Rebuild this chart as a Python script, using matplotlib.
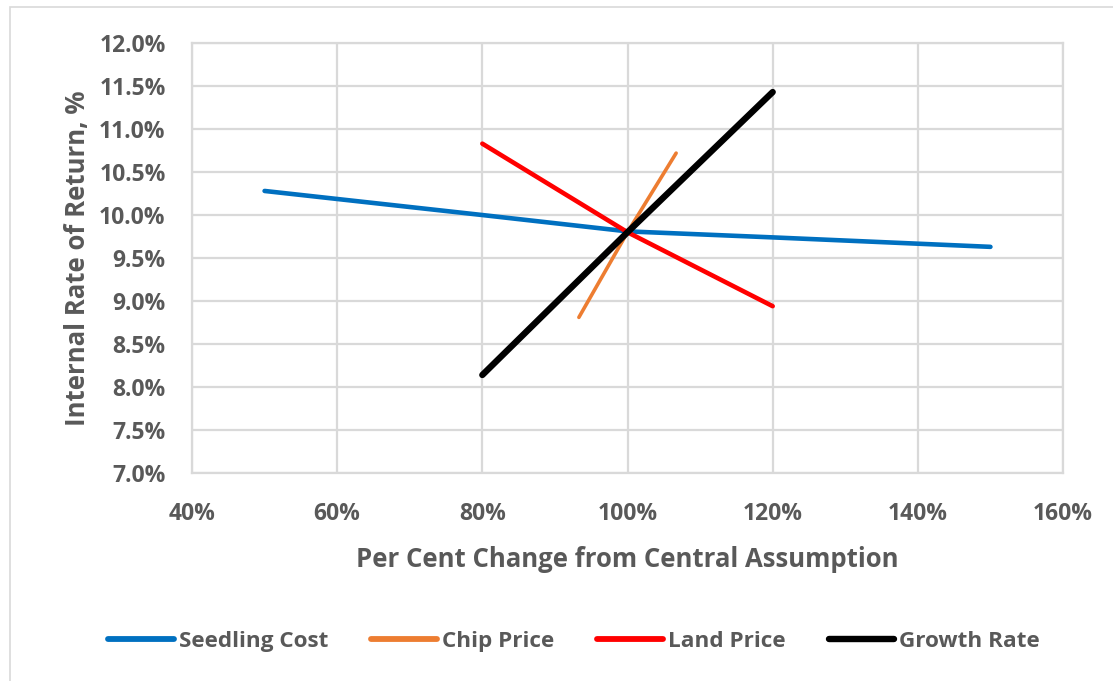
import matplotlib
matplotlib.use('Agg')
import matplotlib.pyplot as plt
from matplotlib.patches import Rectangle
from matplotlib.ticker import FuncFormatter

# sensitivity of IRR to each assumption (x = % of central value, y = IRR %)
seedling_x = [50, 80, 100, 120, 150]
seedling_y = [10.28, 10.0, 9.81, 9.74, 9.63]
chip_x = [93.3, 100, 106.7]
chip_y = [8.81, 9.80, 10.72]
land_x = [80, 100, 120]
land_y = [10.83, 9.80, 8.94]
growth_x = [80, 100, 120]
growth_y = [8.14, 9.80, 11.43]

plt.rcParams['font.family'] = ['Open Sans', 'DejaVu Sans']
plt.rcParams['font.weight'] = 'bold'
grey = '#595959'

fig = plt.figure(figsize=(11.13, 6.81), dpi=100)
ax = fig.add_axes([0.1725, 0.3054, 0.7826, 0.6314])

# outer chart frame
fig.patches.append(Rectangle((10 / 1113, -0.05), 1.2, (681 - 7) / 681 + 0.05,
                             transform=fig.transFigure, fill=False,
                             edgecolor='#d9d9d9', linewidth=1.2))

ax.plot(seedling_x, seedling_y, color='#0070c0', lw=3.3, solid_capstyle='round', label='Seedling Cost')
ax.plot(chip_x, chip_y, color='#ed7d31', lw=2.6, solid_capstyle='round', label='Chip Price')
ax.plot(land_x, land_y, color='#ff0000', lw=3.3, solid_capstyle='round', label='Land Price')
ax.plot(growth_x, growth_y, color='#000000', lw=4.6, solid_capstyle='round', label='Growth Rate')

ax.set_xlim(40, 160)
ax.set_ylim(7.0, 12.0)
ax.set_xticks(range(40, 161, 20))
ax.set_yticks([7 + 0.5 * i for i in range(11)])
ax.xaxis.set_major_formatter(FuncFormatter(lambda v, p: '%d%%' % v))
ax.yaxis.set_major_formatter(FuncFormatter(lambda v, p: '%.1f%%' % v))
ax.grid(True, color='#d9d9d9', lw=1.6)
ax.set_axisbelow(True)
for s in ax.spines.values():
    s.set_color('#d9d9d9')
    s.set_linewidth(1.6)
ax.tick_params(length=0, labelsize=16.5, labelcolor=grey)
ax.tick_params(axis='y', pad=19)
ax.tick_params(axis='x', pad=21)

ax.set_xlabel('Per Cent Change from Central Assumption', fontsize=18.5, fontweight='bold',
              color=grey, labelpad=14)
ax.set_ylabel('Internal Rate of Return, %', fontsize=18.5, fontweight='bold',
              color=grey, labelpad=6)

leg = fig.legend(loc='center', bbox_to_anchor=(0.516, 0.058), ncol=4, frameon=False,
                 handlelength=2.9, handletextpad=0.25, columnspacing=1.9,
                 prop={'size': 16.2, 'weight': 'bold'})
for t in leg.get_texts():
    t.set_color(grey)
for h in leg.get_lines():
    h.set_solid_capstyle('round')
    h.set_linewidth(max(h.get_linewidth(), 4.2))

fig.savefig('out.png', dpi=100)
